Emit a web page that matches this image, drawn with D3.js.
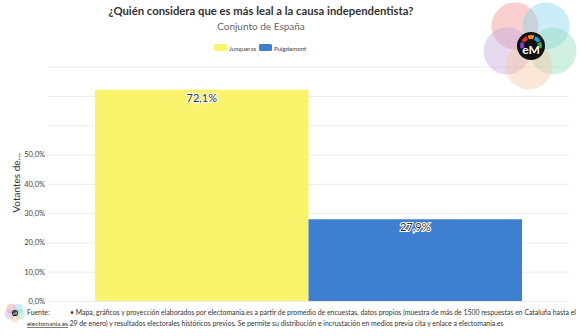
<!DOCTYPE html>
<html><head><meta charset="utf-8">
<script src="https://cdn.jsdelivr.net/npm/d3@7"></script>
<style>
body{margin:0;background:#fff;}
svg{display:block;font-family:Lato, "Open Sans", sans-serif;}
</style></head>
<body>
<svg id="chart" width="580" height="336"></svg>
<script>
const categories = ["Junqueras", "Puigdemont"];
const values = [72.1, 27.9];
const colors = ["#f9f46b", "#3f7fcf"];
const labelTicks = [0, 10, 20, 30, 40, 50];
const gridTicks = [0, 10, 20, 30, 40, 50, 60, 70, 80];
const title = "¿Quién considera que es más leal a la causa independentista?";
const subtitle = "Conjunto de España";
const yTitle = "Votantes de...";
const sourceLine1 = "• Mapa, gráficos y proyección elaborados por electomania.es a partir de promedio de encuestas, datos propios (muestra de más de 1500 respuestas en Cataluña hasta el";
const sourceLine2 = "29 de enero) y resultados electorales históricos previos. Se permite su distribución e incrustación en medios previa cita y enlace a electomania.es";

const svg = d3.select("#chart");
const plot = {left: 48, right: 569, top: 8, bottom: 301};

const x = d3.scaleBand().domain(categories).range([plot.left, plot.right]).paddingInner(0).paddingOuter(0.22);
const y = d3.scaleLinear().domain([0, 100]).range([plot.bottom, plot.bottom - 293]);

// gridlines
svg.append("g").selectAll("line").data(gridTicks).join("line")
  .attr("x1", plot.left).attr("x2", plot.right)
  .attr("y1", d => y(d) + 0.5).attr("y2", d => y(d) + 0.5)
  .attr("stroke", "#ececec").attr("stroke-width", 1);

// y axis labels
const yAxis = d3.axisLeft(y).tickValues(labelTicks).tickSize(0).tickPadding(3)
  .tickFormat(d => d3.format(".1f")(d).replace(".", ",") + "%");
const gy = svg.append("g").attr("transform", `translate(${plot.left},0)`).call(yAxis);
gy.select(".domain").remove();
gy.selectAll("text").attr("font-size", 7.5).attr("fill", "#444").attr("font-family", "Lato, sans-serif");

// y title
svg.append("text").attr("transform", `translate(20,${183}) rotate(-90)`)
  .attr("text-anchor", "middle").attr("font-size", 10).attr("fill", "#333").text(yTitle);

// bars
svg.append("g").selectAll("rect").data(categories).join("rect")
  .attr("x", d => x(d)).attr("width", x.bandwidth())
  .attr("y", (d, i) => y(values[i])).attr("height", (d, i) => y(0) - y(values[i]))
  .attr("fill", (d, i) => colors[i]);

// bar labels
svg.append("g").selectAll("text").data(categories).join("text")
  .attr("x", d => x(d) + x.bandwidth() / 2)
  .attr("y", (d, i) => y(values[i]) + 12)
  .attr("text-anchor", "middle").attr("font-size", 11)
  .attr("fill", "#333").attr("stroke", "#fff").attr("stroke-width", 2)
  .attr("paint-order", "stroke")
  .text((d, i) => d3.format(".1f")(values[i]).replace(".", ",") + "%");

// title & subtitle
svg.append("text").attr("x", 261).attr("y", 15).attr("text-anchor", "middle")
  .attr("font-size", 11.3).attr("font-weight", "bold").attr("fill", "#333").text(title);
svg.append("text").attr("x", 261).attr("y", 30).attr("text-anchor", "middle")
  .attr("font-size", 10).attr("fill", "#666").text(subtitle);

// legend
const legend = svg.append("g");
const legX = [214, 259];
categories.forEach((c, i) => {
  legend.append("rect").attr("x", legX[i]).attr("y", 44).attr("width", 13).attr("height", 7)
    .attr("rx", 1.5).attr("fill", colors[i]);
  legend.append("text").attr("x", legX[i] + 15).attr("y", 50.5).attr("font-size", 6.1)
    .attr("fill", "#444").text(c);
});

// logo
function logo(g, cx, cy, s) {
  const circ = [
    [-16, -20, "#f08c8c"], [15, -20, "#86d3ee"], [-24, 5, "#c0a8dc"],
    [22, 5, "#8fdcb8"], [-2, 20, "#f5c6a0"]
  ];
  circ.forEach(c => g.append("circle").attr("cx", cx + c[0] * s).attr("cy", cy + c[1] * s)
    .attr("r", 23.5 * s).attr("fill", c[2]).attr("fill-opacity", 0.42));
  g.append("circle").attr("cx", cx).attr("cy", cy).attr("r", 14 * s).attr("fill", "#111");
  const arcCols = ["#7b3fc4", "#e0302f", "#f08a24", "#1f9de0", "#2fae4f"];
  const arc = d3.arc().innerRadius(7 * s).outerRadius(11 * s);
  arcCols.forEach((col, i) => {
    const a0 = -Math.PI / 2 - 0.3 + i * (Math.PI + 0.6) / 5;
    g.append("path").attr("transform", `translate(${cx},${cy})`)
      .attr("d", arc({startAngle: a0 + 0.06, endAngle: a0 + (Math.PI + 0.6) / 5 - 0.06})).attr("fill", col);
  });
  g.append("text").attr("x", cx).attr("y", cy + 8 * s).attr("text-anchor", "middle")
    .attr("font-size", 12 * s).attr("fill", "#fff").attr("font-weight", "bold").text("eM");
}
logo(svg.append("g"), 531, 46, 1);
logo(svg.append("g"), 15, 313, 0.22);

// source
const fs = 6.9;
svg.append("text").attr("x", 27).attr("y", 315).attr("font-size", fs).attr("fill", "#333").text("Fuente:");
svg.append("text").attr("x", 70).attr("y", 315).attr("font-size", fs).attr("fill", "#333").text(sourceLine1);
svg.append("text").attr("x", 27).attr("y", 326).attr("font-size", 6.3).attr("fill", "#333")
  .attr("text-decoration", "underline").text("electomania.es");
svg.append("text").attr("x", 69.5).attr("y", 326).attr("font-size", fs).attr("fill", "#333").text(sourceLine2);
</script>
</body></html>
